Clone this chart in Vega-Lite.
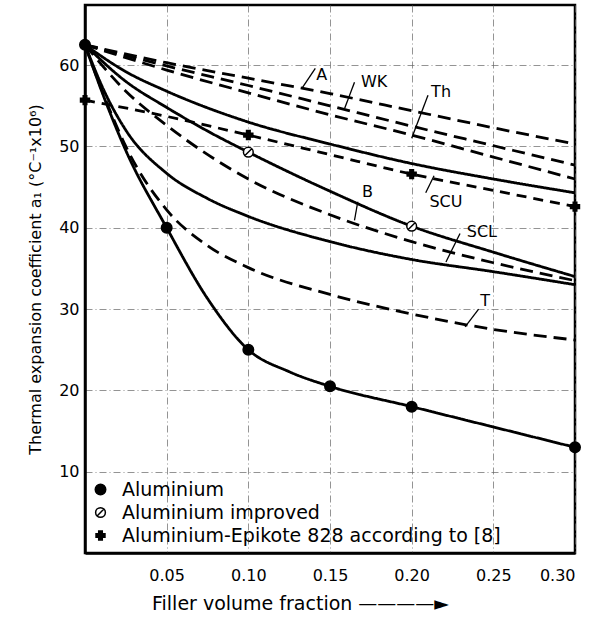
{
  "$schema": "https://vega.github.io/schema/vega-lite/v6.json",
  "width": 490,
  "height": 548,
  "autosize": {"type": "none"},
  "padding": {"left": 85, "top": 5, "right": 17, "bottom": 66},
  "background": "white",
  "config": {
    "font": "DejaVu Sans",
    "view": {"stroke": "black", "strokeWidth": 2.5},
    "axis": {
      "domainColor": "black", "domainWidth": 2.5, "ticks": false,
      "labelFont": "DejaVu Sans", "labelFontSize": 16, "labelColor": "black",
      "titleFont": "DejaVu Sans", "titleFontWeight": "normal", "titleColor": "black",
      "gridColor": "#666", "gridWidth": 0.7, "gridDash": [7, 3, 1, 3]
    },
    "legend": {
      "labelFont": "DejaVu Sans", "labelFontSize": 19, "labelColor": "black", "labelLimit": 1000
    }
  },
  "datasets": {
    "curves": [
      {"series": "A", "x": 0, "y": 62.5}, {"series": "A", "x": 0.05, "y": 60.3}, {"series": "A", "x": 0.10, "y": 58.4}, {"series": "A", "x": 0.15, "y": 56.5}, {"series": "A", "x": 0.20, "y": 54.4}, {"series": "A", "x": 0.25, "y": 52.3}, {"series": "A", "x": 0.30, "y": 50.3},
      {"series": "WK", "x": 0, "y": 62.5}, {"series": "WK", "x": 0.05, "y": 59.9}, {"series": "WK", "x": 0.10, "y": 57.5}, {"series": "WK", "x": 0.15, "y": 55.0}, {"series": "WK", "x": 0.20, "y": 52.5}, {"series": "WK", "x": 0.25, "y": 50.1}, {"series": "WK", "x": 0.30, "y": 47.7},
      {"series": "Th", "x": 0, "y": 62.5}, {"series": "Th", "x": 0.05, "y": 59.4}, {"series": "Th", "x": 0.10, "y": 56.6}, {"series": "Th", "x": 0.15, "y": 53.9}, {"series": "Th", "x": 0.20, "y": 51.4}, {"series": "Th", "x": 0.25, "y": 48.7}, {"series": "Th", "x": 0.30, "y": 46.0},
      {"series": "upper", "x": 0, "y": 62.5}, {"series": "upper", "x": 0.025, "y": 59.2}, {"series": "upper", "x": 0.05, "y": 56.8}, {"series": "upper", "x": 0.10, "y": 53.0}, {"series": "upper", "x": 0.15, "y": 50.3}, {"series": "upper", "x": 0.20, "y": 47.9}, {"series": "upper", "x": 0.25, "y": 46.0}, {"series": "upper", "x": 0.30, "y": 44.3},
      {"series": "Epikote", "x": 0, "y": 55.7}, {"series": "Epikote", "x": 0.05, "y": 53.7}, {"series": "Epikote", "x": 0.10, "y": 51.4}, {"series": "Epikote", "x": 0.15, "y": 49.0}, {"series": "Epikote", "x": 0.20, "y": 46.6}, {"series": "Epikote", "x": 0.25, "y": 44.6}, {"series": "Epikote", "x": 0.30, "y": 42.6},
      {"series": "improved", "x": 0, "y": 62.5}, {"series": "improved", "x": 0.025, "y": 58.0}, {"series": "improved", "x": 0.05, "y": 54.8}, {"series": "improved", "x": 0.075, "y": 51.9}, {"series": "improved", "x": 0.10, "y": 49.3}, {"series": "improved", "x": 0.15, "y": 44.5}, {"series": "improved", "x": 0.20, "y": 40.2}, {"series": "improved", "x": 0.25, "y": 37.0}, {"series": "improved", "x": 0.30, "y": 34.0},
      {"series": "B", "x": 0, "y": 62.5}, {"series": "B", "x": 0.025, "y": 56.8}, {"series": "B", "x": 0.05, "y": 52.6}, {"series": "B", "x": 0.10, "y": 46.0}, {"series": "B", "x": 0.15, "y": 41.6}, {"series": "B", "x": 0.20, "y": 38.3}, {"series": "B", "x": 0.25, "y": 35.7}, {"series": "B", "x": 0.30, "y": 33.5},
      {"series": "SCL", "x": 0, "y": 62.5}, {"series": "SCL", "x": 0.0125, "y": 56.5}, {"series": "SCL", "x": 0.025, "y": 52.0}, {"series": "SCL", "x": 0.05, "y": 46.7}, {"series": "SCL", "x": 0.075, "y": 43.6}, {"series": "SCL", "x": 0.10, "y": 41.4}, {"series": "SCL", "x": 0.15, "y": 38.3}, {"series": "SCL", "x": 0.20, "y": 36.1}, {"series": "SCL", "x": 0.25, "y": 34.6}, {"series": "SCL", "x": 0.30, "y": 33.0},
      {"series": "T", "x": 0, "y": 62.5}, {"series": "T", "x": 0.0125, "y": 55.8}, {"series": "T", "x": 0.025, "y": 50.0}, {"series": "T", "x": 0.05, "y": 42.2}, {"series": "T", "x": 0.075, "y": 37.8}, {"series": "T", "x": 0.10, "y": 35.1}, {"series": "T", "x": 0.15, "y": 31.8}, {"series": "T", "x": 0.20, "y": 29.4}, {"series": "T", "x": 0.25, "y": 27.5}, {"series": "T", "x": 0.30, "y": 26.2},
      {"series": "Aluminium", "x": 0, "y": 62.5}, {"series": "Aluminium", "x": 0.0125, "y": 55.6}, {"series": "Aluminium", "x": 0.025, "y": 49.5}, {"series": "Aluminium", "x": 0.05, "y": 40.0}, {"series": "Aluminium", "x": 0.075, "y": 31.3}, {"series": "Aluminium", "x": 0.10, "y": 25.0}, {"series": "Aluminium", "x": 0.125, "y": 22.3}, {"series": "Aluminium", "x": 0.15, "y": 20.5}, {"series": "Aluminium", "x": 0.20, "y": 18.0}, {"series": "Aluminium", "x": 0.25, "y": 15.5}, {"series": "Aluminium", "x": 0.30, "y": 13.0}
    ],
    "points": [
      {"type": "Aluminium", "x": 0, "y": 62.5},
      {"type": "Aluminium", "x": 0.05, "y": 40.0},
      {"type": "Aluminium", "x": 0.10, "y": 25.0},
      {"type": "Aluminium", "x": 0.15, "y": 20.5},
      {"type": "Aluminium", "x": 0.20, "y": 18.0},
      {"type": "Aluminium", "x": 0.30, "y": 13.0},
      {"type": "Aluminium improved", "x": 0.10, "y": 49.3},
      {"type": "Aluminium improved", "x": 0.20, "y": 40.2},
      {"type": "Aluminium-Epikote 828 according to [8]", "x": 0, "y": 55.7},
      {"type": "Aluminium-Epikote 828 according to [8]", "x": 0.10, "y": 51.4},
      {"type": "Aluminium-Epikote 828 according to [8]", "x": 0.20, "y": 46.6},
      {"type": "Aluminium-Epikote 828 according to [8]", "x": 0.30, "y": 42.6}
    ],
    "labels": [
      {"label": "A", "x": 0.145, "y": 58.8},
      {"label": "WK", "x": 0.177, "y": 57.9},
      {"label": "Th", "x": 0.218, "y": 56.7},
      {"label": "SCU", "x": 0.221, "y": 43.2},
      {"label": "B", "x": 0.173, "y": 44.4},
      {"label": "SCL", "x": 0.243, "y": 39.5},
      {"label": "T", "x": 0.245, "y": 31.0}
    ],
    "pointers": [
      {"label": "A", "x": 0.141, "y": 59.6, "x2": 0.133, "y2": 57.2},
      {"label": "WK", "x": 0.165, "y": 57.9, "x2": 0.159, "y2": 54.7},
      {"label": "Th", "x": 0.210, "y": 56.3, "x2": 0.200, "y2": 51.0},
      {"label": "SCU", "x": 0.2086, "y": 44.3, "x2": 0.2137, "y2": 46.4},
      {"label": "B", "x": 0.167, "y": 43.2, "x2": 0.165, "y2": 40.9},
      {"label": "SCL", "x": 0.2296, "y": 39.3, "x2": 0.221, "y2": 35.8},
      {"label": "T", "x": 0.241, "y": 30.0, "x2": 0.2327, "y2": 27.8}
    ]
  },
  "layer": [
    {
      "data": {"name": "curves"},
      "mark": {"type": "line", "interpolate": "monotone", "color": "black", "strokeWidth": 2.8},
      "encoding": {
        "x": {"field": "x", "type": "quantitative",
              "scale": {"domain": [0, 0.30], "nice": false},
              "axis": {"values": [0.05, 0.10, 0.15, 0.20, 0.25, 0.30], "format": ".2f", "labelPadding": 14, "titlePadding": 11,
                       "titleFontSize": 19, "titleX": 215,
                       "title": "Filler volume fraction ————►"}},
        "y": {"field": "y", "type": "quantitative",
              "scale": {"domain": [0, 67.4], "nice": false, "zero": false},
              "axis": {"values": [10, 20, 30, 40, 50, 60], "labelPadding": 6, "titlePadding": 15,
                       "titleFontSize": 16,
                       "title": "Thermal expansion coefficient a₁ (°C⁻¹x10⁶)"}},
        "detail": {"field": "series"},
        "strokeDash": {"field": "series", "type": "nominal", "legend": null,
          "scale": {"domain": ["A", "WK", "Th", "upper", "Epikote", "improved", "B", "SCL", "T", "Aluminium"],
                    "range": [[13, 7], [13, 7], [13, 7], [1, 0], [10, 7], [1, 0], [13, 7], [1, 0], [13, 7], [1, 0]]}}
      }
    },
    {
      "data": {"name": "pointers"},
      "mark": {"type": "rule", "color": "black", "strokeWidth": 1.3},
      "encoding": {
        "x": {"field": "x", "type": "quantitative"},
        "y": {"field": "y", "type": "quantitative"},
        "x2": {"field": "x2"},
        "y2": {"field": "y2"}
      }
    },
    {
      "data": {"name": "labels"},
      "mark": {"type": "text", "fontSize": 16, "font": "DejaVu Sans", "color": "black", "align": "center", "baseline": "middle"},
      "encoding": {
        "x": {"field": "x", "type": "quantitative"},
        "y": {"field": "y", "type": "quantitative"},
        "text": {"field": "label"}
      }
    },
    {
      "data": {"name": "points"},
      "mark": {"type": "point", "filled": false, "stroke": "black", "strokeWidth": 1.5, "opacity": 1},
      "encoding": {
        "x": {"field": "x", "type": "quantitative"},
        "y": {"field": "y", "type": "quantitative"},
        "shape": {"field": "type", "type": "nominal",
          "scale": {"domain": ["Aluminium", "Aluminium improved", "Aluminium-Epikote 828 according to [8]"],
                    "range": ["circle", "M -1 0 A 1 1 0 1 0 1 0 A 1 1 0 1 0 -1 0 Z M -0.7 0.7 L 0.7 -0.7", "cross"]},
          "legend": {"title": null, "orient": "none", "legendX": 6, "legendY": 475, "rowPadding": 3, "labelOffset": 12,
                     "encode": {"symbols": {"update": {"stroke": {"value": "black"}, "strokeWidth": {"value": 1.5}}}}}},
        "fill": {"field": "type", "type": "nominal",
          "scale": {"domain": ["Aluminium", "Aluminium improved", "Aluminium-Epikote 828 according to [8]"],
                    "range": ["black", "white", "black"]},
          "legend": {"title": null, "orient": "none", "legendX": 6, "legendY": 475, "rowPadding": 3, "labelOffset": 12,
                     "encode": {"symbols": {"update": {"stroke": {"value": "black"}, "strokeWidth": {"value": 1.5}}}}}},
        "size": {"field": "type", "type": "nominal",
          "scale": {"domain": ["Aluminium", "Aluminium improved", "Aluminium-Epikote 828 according to [8]"],
                    "range": [110, 80, 45]},
          "legend": {"title": null, "orient": "none", "legendX": 6, "legendY": 475, "rowPadding": 3, "labelOffset": 12,
                     "encode": {"symbols": {"update": {"stroke": {"value": "black"}, "strokeWidth": {"value": 1.5}}}}}}
      }
    }
  ]
}
